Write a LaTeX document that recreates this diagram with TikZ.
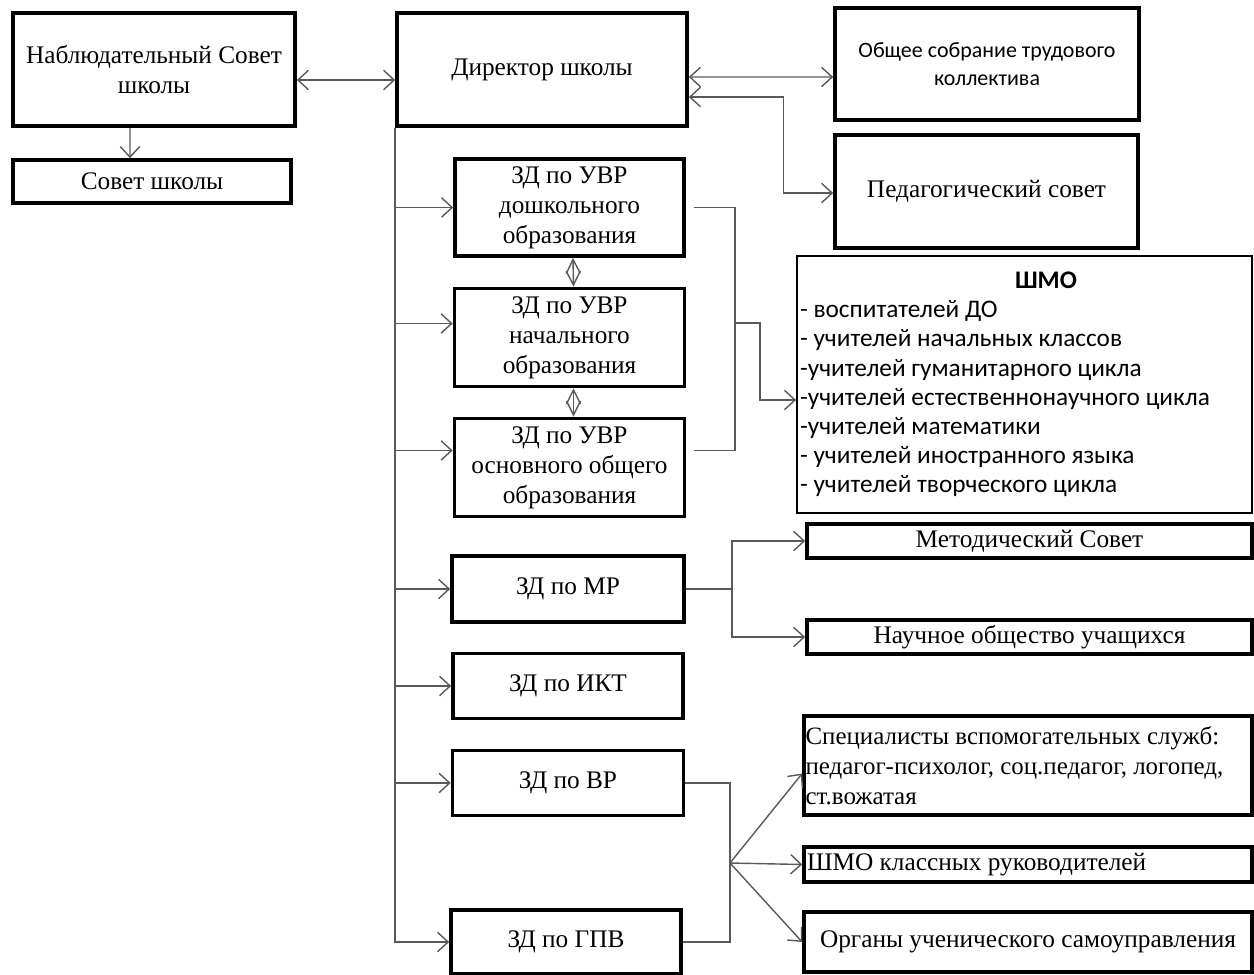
\documentclass[tikz,border=0pt]{standalone}
\usepackage{fontspec}
\setmainfont{Liberation Serif}
\newfontfamily\calibri{Carlito}
\usetikzlibrary{arrows.meta, positioning}

\begin{document}
\begin{tikzpicture}[x=0.02cm, y=-0.02cm, node distance=2.6cm, font=\fontsize{14.4}{17}\selectfont]

% Define block styles
\tikzstyle{block} = [rectangle, draw=black, line width=2.1pt, text centered, align=center, inner sep=2pt]
\tikzstyle{listbox} = [rectangle, draw=black, line width=2.1pt, align=flush left, inner xsep=0.06cm, inner ysep=2pt]
\tikzstyle{conn} = [draw=black!65, line width=0.8pt]
\tikzstyle{arrow} = [conn, ->, >={Straight Barb[length=6pt,width=11pt]}]
\tikzstyle{dblarrow} = [conn, {Straight Barb[length=8pt,width=8pt]}-{Straight Barb[length=8pt,width=8pt]}]

\useasboundingbox (0,0) rectangle (1254,974);

% Left column
\node (nabl) [block, minimum width=5.64cm, minimum height=2.26cm] at (154,69.5) {Наблюдательный Совет\\школы};
\node (sovet) [block, minimum width=5.56cm, minimum height=0.86cm] at (152,181.5) {Совет школы};

% Director and councils
\node (dir) [block, minimum width=5.8cm, minimum height=2.26cm] at (542,69.5) {Директор школы};
\node (sobr) [block, minimum width=6.08cm, minimum height=2.24cm, font=\calibri\fontsize{12.5}{16}\selectfont] at (987,64) {Общее собрание трудового\\коллектива};
\node (pedsov) [block, minimum width=6.06cm, minimum height=2.26cm] at (986.5,191.5) {Педагогический совет};

% Deputies
\node (uvr1) [block, minimum width=4.58cm, minimum height=1.94cm] at (569.5,207.5) {ЗД по УВР\\дошкольного\\образования};
\node (uvr2) [block, minimum width=4.6cm, minimum height=1.96cm, below of=uvr1] {ЗД по УВР\\начального\\образования};
\node (uvr3) [block, minimum width=4.6cm, minimum height=1.96cm, below of=uvr2] {ЗД по УВР\\основного общего\\образования};
\node (mr) [block, minimum width=4.64cm, minimum height=1.32cm] at (568,589) {ЗД по МР};
\node (ikt) [block, minimum width=4.6cm, minimum height=1.3cm, node distance=1.94cm, below of=mr] {ЗД по ИКТ};
\node (vr) [block, minimum width=4.62cm, minimum height=1.3cm, node distance=1.94cm, below of=ikt] {ЗД по ВР};
\node (gpv) [block, minimum width=4.6cm, minimum height=1.28cm] at (566,942) {ЗД по ГПВ};

% Right column
\node (shmo) [listbox, line width=1.1pt, minimum width=9.1cm, minimum height=5.14cm, text width=8.98cm, font=\calibri\fontsize{14.4}{16.6}\selectfont] at (1024.5,384.5)
  {\hspace*{4.3cm}\textbf{ШМО}\\- воспитателей ДО\\- учителей начальных классов\\-учителей гуманитарного цикла\\-учителей естественнонаучного цикла\\-учителей математики\\- учителей иностранного языка\\- учителей творческого цикла};
\node (metod) [block, minimum width=8.9cm, minimum height=0.68cm] at (1029.5,541) {Методический Совет};
\node (nauch) [block, minimum width=8.9cm, minimum height=0.68cm] at (1029.5,637) {Научное общество учащихся};
\node (spec) [listbox, minimum width=8.96cm, minimum height=1.98cm, text width=8.9cm, inner xsep=0.03cm, font=\fontsize{14.2}{17}\selectfont] at (1028,765.5) {Специалисты вспомогательных служб:\\педагог-психолог, соц.педагог, логопед,\\ст.вожатая};
\node (shmokl) [listbox, minimum width=8.96cm, minimum height=0.7cm, text width=8.84cm] at (1028,864.5) {ШМО классных руководителей};
\node (organy) [block, minimum width=8.96cm, minimum height=1.2cm] at (1028,942) {Органы ученического самоуправления};

% Arrows at the top
\draw [arrow, <->] ([yshift=-0.21cm]nabl.east) -- ([yshift=-0.21cm]dir.west);
\draw [arrow] ([xshift=-0.48cm]nabl.south) -- ([xshift=-0.44cm]sovet.north);
\draw [arrow, <->] ([yshift=-0.15cm]dir.east) -- ([yshift=-0.26cm]sobr.west);
\draw [arrow, <->] ([yshift=-0.55cm]dir.east) -| ([xshift=-1cm, yshift=-0.03cm]pedsov.west) -- ([yshift=-0.03cm]pedsov.west);

% Bus from the director to the deputies
\foreach \n/\s in {uvr1/0, uvr2/0.28, uvr3/0.34, mr/0, ikt/0, vr/0, gpv/0}
  \draw [arrow] (dir.south west) |- ([yshift=\s cm]\n.west);

\draw [dblarrow] ([xshift=0.07cm]uvr1.south) -- ([xshift=0.08cm]uvr2.north);
\draw [dblarrow] ([xshift=0.08cm]uvr2.south) -- ([xshift=0.08cm]uvr3.north);

% UVR deputies to the ShMO
\coordinate (uvrjoin) at (735,323);
\draw [conn] ([xshift=0.16cm]uvr1.east) -| (uvrjoin);
\draw [conn] ([xshift=0.16cm, yshift=0.34cm]uvr3.east) -| (uvrjoin);
\draw [arrow] (uvrjoin) -- ++(25,0) |- ([yshift=-0.31cm]shmo.west);

% MR deputy
\draw [arrow] (mr.east) -- ++(46,0) |- (metod.west);
\draw [arrow] (mr.east) -- ++(46,0) |- (nauch.west);

% VR and GPV deputies
\coordinate (vrjoin) at (730,863);
\draw [conn] (vr.east) -| (vrjoin);
\draw [conn] (gpv.east) -| (vrjoin);
\draw [arrow] (vrjoin) -- ([yshift=-0.16cm]spec.west);
\draw [arrow] (vrjoin) -- (shmokl.west);
\draw [arrow] (vrjoin) -- (organy.west);

\end{tikzpicture}
\end{document}
